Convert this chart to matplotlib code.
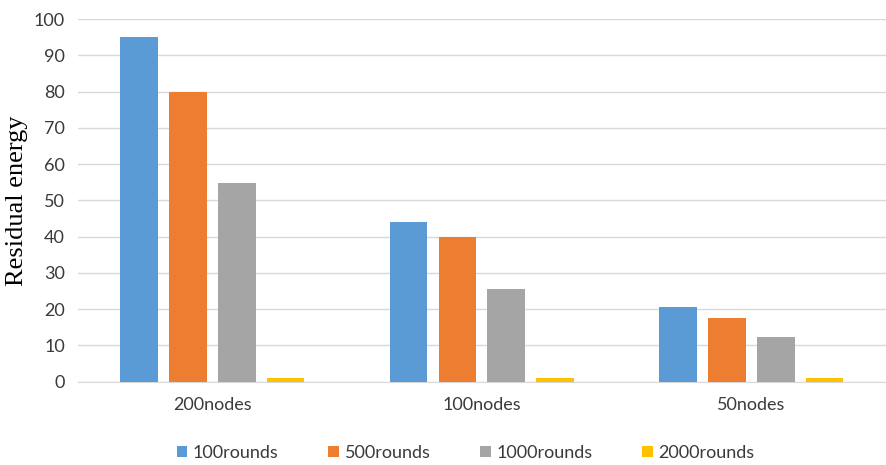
import matplotlib
matplotlib.use("Agg")
import matplotlib.pyplot as plt
import numpy as np

categories = ["200nodes", "100nodes", "50nodes"]
series_names = ["100rounds", "500rounds", "1000rounds", "2000rounds"]
values_100 = [95, 44, 20.5]
values_500 = [80, 40, 17.6]
values_1000 = [54.7, 25.7, 12.4]
values_2000 = [1, 1, 1]
y_ticks = [0, 10, 20, 30, 40, 50, 60, 70, 80, 90, 100]

colors = ["#5B9BD5", "#ED7D31", "#A5A5A5", "#FFC000"]
series = [values_100, values_500, values_1000, values_2000]

fig = plt.figure(figsize=(8.86, 4.65), dpi=100)
ax = fig.add_axes([0.0875, 0.179, 0.9125, 0.780])

x = np.arange(len(categories))
width = 0.14
step = 0.181
for i, (name, vals, c) in enumerate(zip(series_names, series, colors)):
    ax.bar(x + (i - 1.5) * step, vals, width, color=c, label=name, zorder=3)

ax.set_xlim(-0.5, len(categories) - 0.5)
ax.set_ylim(0, 100)
ax.set_yticks(y_ticks)
ax.yaxis.grid(True, color="#D9D9D9", linewidth=1.0, zorder=0)
ax.set_axisbelow(True)
for s in ["top", "right", "left"]:
    ax.spines[s].set_visible(False)
ax.spines["bottom"].set_color("#D9D9D9")
ax.tick_params(axis="both", length=0, colors="#3A3A3A", labelsize=13)
ax.tick_params(axis="y", pad=9)
ax.tick_params(axis="x", pad=11)
ax.set_xticks(x)
ax.set_xticklabels(categories, fontfamily="Lato")
for lbl in ax.get_yticklabels():
    lbl.set_fontfamily("Lato")

fig.text(17 / 886, 1 - 201 / 465, "Residual energy", rotation=90,
         ha="center", va="center", fontfamily="Liberation Serif",
         fontsize=19, color="#000000")

fig.legend(loc="center", bbox_to_anchor=(465.5 / 886, 1 - 453 / 465), ncol=4,
           frameon=False, prop={"family": "Lato", "size": 13},
           handlelength=0.6, handleheight=0.6, handletextpad=0.3,
           columnspacing=2.75, labelcolor="#3A3A3A")

fig.savefig("out.png", dpi=100)
